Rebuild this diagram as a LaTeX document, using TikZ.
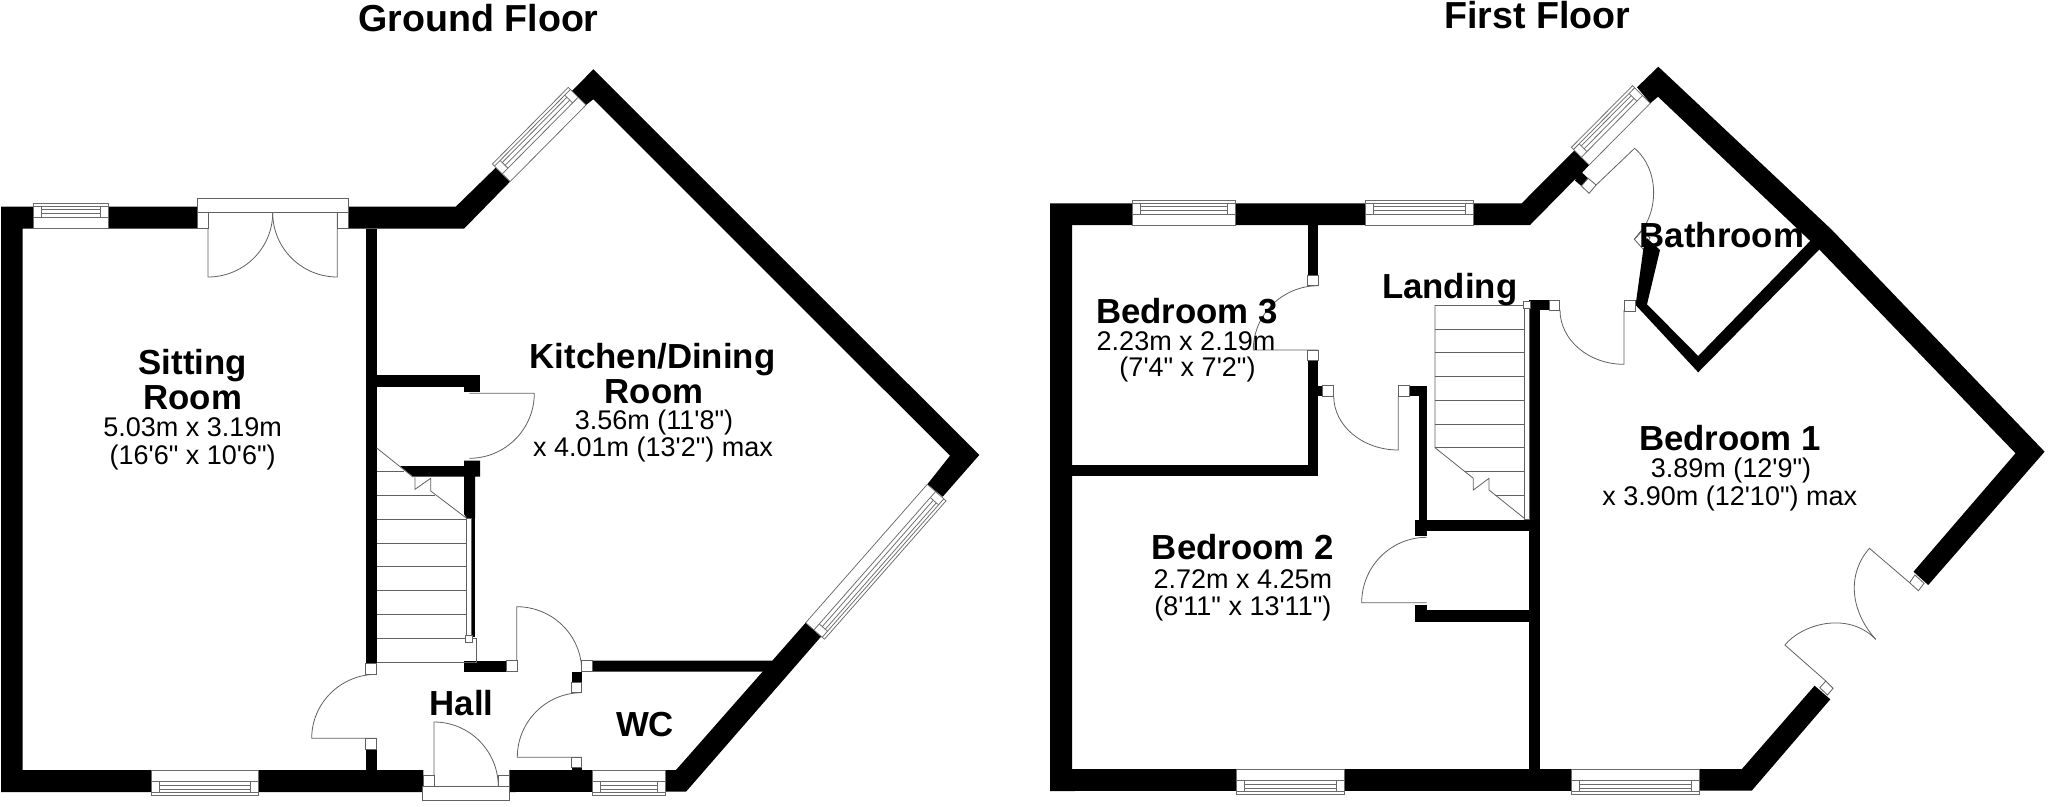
\documentclass[tikz,border=0pt]{standalone}
\usepackage{fontspec}
\newfontfamily\planfont{Liberation Sans}
\newcommand\fbig{\planfont\bfseries\fontsize{34.8}{36}\selectfont}
\newcommand\fdim{\planfont\fontsize{27}{28}\selectfont}
\newcommand\ftitle{\planfont\bfseries\fontsize{37.6}{40}\selectfont}
\tikzset{
  x=1pt,y=-1pt,
  wall/.style={fill=black,draw=none},
  thinline/.style={draw=black!62,line width=0.8pt,line join=miter},
  jambbox/.style={draw=black!62,line width=0.8pt,fill=white},
  glass/.style={draw=black!58,line width=0.75pt},
  lab/.style={inner sep=0pt,anchor=base,text=black}
}
% window: walk along the inner wall face with the outside on the right hand
\newcommand\winframe[4]{%
  \pgfmathsetmacro\wang{atan2(-(#4-#2),#3-#1)}%
  \pgfmathsetmacro\wlen{veclen(#3-#1,#4-#2)}%
  \pgfmathsetmacro\wjam{\wlen-8}%
  \begin{scope}[shift={(#1,#2)},rotate=\wang]
    \filldraw[glass,fill=white] (0,0) rectangle (\wlen,25);
    \draw[glass] (0,11) -- (\wlen,11) (0,22) -- (\wlen,22);
    \draw[glass] (8,11) -- (8,22) (\wjam,11) -- (\wjam,22);
    \draw[glass] (8,15) -- (\wjam,15) (8,19) -- (\wjam,19);
  \end{scope}}
% door: hinge, leaf end, arc end
\newcommand\qdoor[6]{%
  \pgfmathsetmacro\pa{#3+0.5523*(#5-#1)}%
  \pgfmathsetmacro\pb{#4+0.5523*(#6-#2)}%
  \pgfmathsetmacro\pc{#5+0.5523*(#3-#1)}%
  \pgfmathsetmacro\pd{#6+0.5523*(#4-#2)}%
  \draw[thinline] (#1,#2) -- (#3,#4) .. controls (\pa,\pb) and (\pc,\pd) .. (#5,#6);}
\newcommand\blk[4]{\fill[wall] (#1,#2) rectangle (#3,#4);}
\newcommand\jam[4]{\filldraw[jambbox] (#1,#2) rectangle (#3,#4);}
\begin{document}
\begin{tikzpicture}
\useasboundingbox (0,0) rectangle (2048,806);
\fill[white] (0,0) rectangle (2048,806);

%% ---------- GROUND FLOOR ----------
\fill[wall] (1,206.7) -- (197,206.7) -- (197,228.7) -- (22.7,228.7) -- (22.7,770) -- (423.3,770) -- (423.3,792) -- (1,792) -- cycle;
\fill[wall] (348,206.7) -- (455.7,206.7) -- (496.7,166.7) -- (510,181.7) -- (464,228.7) -- (348,228.7) -- cycle;
\fill[wall] (571.3,91.7) -- (593.3,69.3) -- (979.3,455) -- (942.7,496.7) -- (927.3,484.3) -- (950,455.7) -- (593.3,99.3) -- (586,105) -- cycle;
\fill[wall] (805.7,622.7) -- (821,636.7) -- (686,791.7) -- (509.3,792) -- (509.3,770) -- (676,770) -- cycle;
\blk{365.7}{228.7}{376.7}{663.3}
\blk{365.7}{749}{376.7}{770}
\blk{376.7}{375.3}{480}{386.7}
\blk{464}{386}{480}{391.7}
\fill[wall] (400,466) -- (464,466) -- (464,460.7) -- (480,460.7) -- (480,476.7) -- (475,476.7) -- (475,518.3) -- (466.7,518.3) -- (464,514) -- (464,476.7) -- (413,476.7) -- cycle;
\blk{471.7}{518}{475}{637}
\blk{464}{660.7}{506.7}{671.7}
\fill[wall] (592.3,660.7) -- (771.7,660.7) -- (780,671.7) -- (592.3,671.7) -- cycle;
\blk{571.7}{672.3}{581.7}{682.3}
\blk{571.7}{767.7}{581.7}{770}

% stairs
\draw[thinline] (376.7,448) -- (413,477);
\draw[thinline] (415,477.3) -- (415,489.3) -- (430.7,478.3) -- (430.7,491) -- (466.7,518.3);
\draw[thinline] (376.7,471.7) -- (404,471.7) (376.7,495.3) -- (435,495.3);
\foreach \yy in {519.3,543.3,566.7,590.7,614.7,638.3} \draw[thinline] (376.7,\yy) -- (466.7,\yy);
\draw[thinline] (472.7,638.3) -- (476.7,638.3) -- (476.7,662.3) -- (376.7,662.3);
\jam{466.7}{518.3}{471.7}{636.7}
\jam{465.7}{635}{472.7}{642}

% doors
\qdoor{208}{212.7}{208}{277}{272.7}{212.7}
\qdoor{337.3}{212.7}{337.3}{277}{272.7}{212.7}
\qdoor{376.7}{738.3}{311.7}{738.3}{376.7}{674.3}
\qdoor{469.3}{393.3}{534.3}{393.3}{469.3}{458.3}
\qdoor{516.7}{671}{516.7}{606.7}{581.7}{671}
\qdoor{581.7}{757.3}{517.3}{757.3}{581.7}{692.7}
\qdoor{434}{786.7}{434}{722}{498.3}{786.7}
\jam{197}{198}{348}{212.7}
\jam{197}{212.7}{208}{228.7}
\jam{337.3}{212.7}{348}{228.7}
\jam{365.7}{663.3}{376.7}{674.3}
\jam{365.7}{738.3}{376.7}{749}
\jam{506.7}{660.7}{517}{671.7}
\jam{581.7}{660.7}{592.3}{671.7}
\jam{571.7}{682.3}{581.7}{692.7}
\jam{571.7}{757.3}{581.7}{767.7}
\jam{423.3}{775.3}{434}{786.7}
\jam{498.3}{775.3}{509.3}{786.7}
\jam{422.7}{786.7}{509.3}{800.7}

% windows
\winframe{151}{770}{258.7}{770}
\winframe{592.7}{770}{665.3}{770}
\winframe{108}{228.7}{33}{228.7}
\winframe{586}{105}{510}{181.7}
\winframe{805.7}{622.7}{927.3}{484.3}

%% ---------- FIRST FLOOR ----------
\fill[wall] (1050,203.3) -- (1521.7,203.3) -- (1574.1,150.7) -- (1589.1,165) -- (1530,225) -- (1072,225) -- (1072,769) -- (1741.9,769) -- (1814.6,685.7) -- (1830.3,699.3) -- (1751.7,790.7) -- (1050,791) -- cycle;
\fill[wall] (1637,87.3) -- (1658.3,66.7) -- (1832,230) -- (2044.6,451.7) -- (1928.2,585) -- (1913.5,571.7) -- (2015.5,453.3) -- (1819.8,250) -- (1658,96.7) -- (1650.3,103.3) -- cycle;
\blk{1307.7}{225}{1318.3}{275}
\blk{1307.7}{360.7}{1318.3}{476}
\blk{1072}{465}{1318.3}{476}
\blk{1318}{385.7}{1322.7}{396}
\blk{1409}{385.7}{1427.3}{396}
\blk{1419}{396}{1427.3}{520}
\blk{1415}{520}{1426.7}{536}
\blk{1426}{520}{1540}{530.7}
\blk{1415}{605}{1426.7}{621.7}
\blk{1426}{610}{1530}{621.7}
\blk{1529.3}{300}{1549}{310}
\blk{1529.3}{310}{1540}{769}
% bathroom wall
\filldraw[thinline,fill=white] (1634.3,239.3) -- (1641.7,230) -- (1650,238) -- (1643.3,249.3) -- cycle;
\fill[wall] (1646.7,238) -- (1660,250) -- (1647,304.3) -- (1698.2,356) -- (1811.1,240) -- (1819.8,249) -- (1698.2,372.3) -- (1635.6,305) -- (1643.3,249.3) -- cycle;
% bathroom door stub
\fill[wall] (1589.1,165) -- (1582.1,172.7) -- (1588.1,178.3) -- (1581.4,186) -- (1575.1,180.7) -- (1578,170) -- cycle;
\filldraw[jambbox] (1588.1,178.3) -- (1596.1,185) -- (1589.1,193.3) -- (1581.4,186) -- cycle;
\draw[thinline] (1596.1,185) -- (1634.6,148.3) .. controls (1660,170) and (1660,215) .. (1634.3,239.3);

% stairs
\draw[thinline] (1435,305) -- (1435,447.7) -- (1473.3,478.3) -- (1473.3,490) -- (1489,478.3) -- (1489,490) -- (1524.3,518.3);
\foreach \yy in {305,329,352.7,376.3,400.3,424.3,447.7} \draw[thinline] (1435,\yy) -- (1524.3,\yy);
\draw[thinline] (1465,471.7) -- (1524.3,471.7) (1495,495) -- (1524.3,495);
\jam{1524.3}{308.3}{1529.3}{519}
\jam{1523.3}{301.7}{1530}{308.3}

% doors
\qdoor{1318.3}{350}{1253.3}{350}{1318.3}{285.7}
\qdoor{1398.3}{396}{1398.3}{450}{1333.7}{396}
\qdoor{1426.7}{602.7}{1361.7}{602.7}{1426.7}{537.3}
\qdoor{1624}{310}{1624}{364.3}{1560}{310}
\jam{1307.7}{275}{1318.3}{285.7}
\jam{1307.7}{350}{1318.3}{360.7}
\jam{1322.7}{385.7}{1333.7}{396}
\jam{1398.3}{385.7}{1409}{396}
\jam{1549}{300}{1559.5}{310}
\jam{1624}{300}{1635.6}{311}
% double doors of bedroom 1
\filldraw[jambbox] (1914.9,575) -- (1924,583.3) -- (1918.4,590.7) -- (1909.6,582.7) -- cycle;
\filldraw[jambbox] (1825.8,681) -- (1833.1,688.3) -- (1827.5,695) -- (1819.8,687.7) -- cycle;
\draw[thinline] (1909.6,582.7) -- (1869.4,548.3) .. controls (1846,575) and (1851,612) .. (1875.7,639.3);
\draw[thinline] (1825.8,681) -- (1784.9,645) .. controls (1801,625) and (1847,610) .. (1875.7,639.3);

% windows
\winframe{1235.3}{225}{1132.3}{225}
\winframe{1473.3}{225}{1365}{225}
\winframe{1236.7}{769}{1344.7}{769}
\winframe{1571}{769}{1699}{769}
\winframe{1650.3}{103.3}{1589.1}{165}

%% ---------- TEXT ----------
\node[lab,font=\ftitle] (titleG) at (478.5,31.7) {Ground Floor};
\node[lab,font=\ftitle] (titleF) at (1537.5,28.3) {First Floor};

\node[lab,font=\fbig] (sit1) at (192.7,374.2) {Sitting};
\node[lab,font=\fbig] (sit2) at (192.7,409.2) {Room};
\node[lab,font=\fdim] (sit3) at (192.7,436.5) {5.03m x 3.19m};
\node[lab,font=\fdim] (sit4) at (192.7,464) {(16'6" x 10'6")};

\node[lab,font=\fbig] (kit1) at (652.5,368) {Kitchen/Dining};
\node[lab,font=\fbig] (kit2) at (654,403) {Room};
\node[lab,font=\fdim] (kit3) at (654,429.3) {3.56m (11'8")};
\node[lab,font=\fdim] (kit4) at (653,456.7) {x 4.01m (13'2") max};

\node[lab,font=\fbig] (hall) at (461.7,715.3) {Hall};
\node[lab,font=\fbig] (wc) at (645,736.3) {WC};

\node[lab,font=\fbig] (bed31) at (1187,323) {Bedroom 3};
\node[lab,font=\fdim] (bed32) at (1186,350.7) {2.23m x 2.19m};
\node[lab,font=\fdim] (bed33) at (1187.5,376.7) {(7'4" x 7'2")};

\node[lab,font=\fbig] (land) at (1449.7,298.5) {Landing};
\node[lab,font=\fbig] (bath) at (1722,247.5) {Bathroom};

\node[lab,font=\fbig] (bed21) at (1242.8,559.5) {Bedroom 2};
\node[lab,font=\fdim] (bed22) at (1242.8,588.3) {2.72m x 4.25m};
\node[lab,font=\fdim] (bed23) at (1242.8,615) {(8'11" x 13'11")};

\node[lab,font=\fbig] (bed11) at (1730,450.2) {Bedroom 1};
\node[lab,font=\fdim] (bed12) at (1731,477) {3.89m (12'9")};
\node[lab,font=\fdim] (bed13) at (1729.7,505) {x 3.90m (12'10") max};
\end{tikzpicture}
\end{document}
